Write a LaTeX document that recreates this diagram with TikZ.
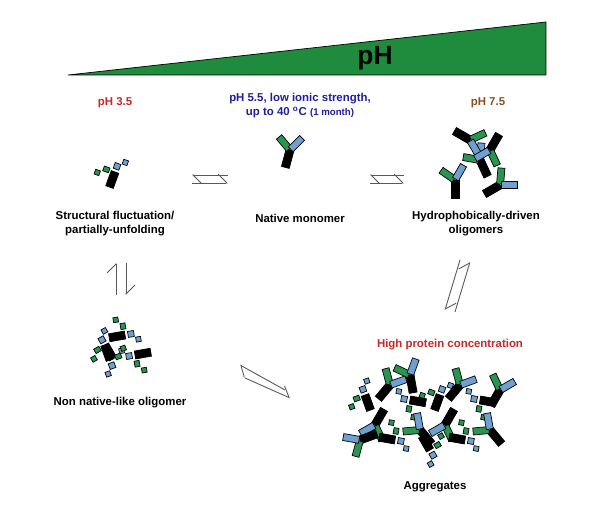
\documentclass[tikz,border=0pt]{standalone}
\usepackage{fontspec}
\setmainfont{Liberation Sans}
\usetikzlibrary{arrows.meta}
\definecolor{armG}{RGB}{40,150,80}
\definecolor{armB}{RGB}{110,160,210}
\definecolor{triG}{RGB}{30,140,60}
\definecolor{phRed}{RGB}{200,40,40}
\definecolor{phBlue}{RGB}{30,30,160}
\definecolor{phBrown}{RGB}{140,80,30}
\tikzset{
  lbl/.style={font=\fontsize{6.5}{8}\selectfont\bfseries, align=center},
  eqarrow/.style={gray!70!black, line width=.5pt, -{Straight Barb[left,length=5pt]}},
  ab/.pic={
    \draw[fill=black] (-4,0) rectangle (4,18);
    \draw[fill=armG,rotate=55] (-3.5,-1) rectangle (3.5,-17);
    \draw[fill=armB,rotate=-30] (-3.5,-1) rectangle (3.5,-17);
  },
  abu/.pic={
    \draw[fill=black] (-4,0) rectangle (4,16);
    \draw[fill=armB] (-3,-3) rectangle (3,-9);
    \draw[fill=armB] (4,-10) rectangle (9,-15);
    \draw[fill=armG] (-6,-2) rectangle (-12,3);
    \draw[fill=armG] (-14,4) rectangle (-19,9);
  }
}
\begin{document}
\begin{tikzpicture}[x={(0.02cm,0)}, y={(0,-0.02cm)}]
    \useasboundingbox (0,0) rectangle (600,510);
    \fill[white] (0,0) rectangle (600,510);
    % pH gradient wedge
    \draw[fill=triG] (68,75) -- (546,22) -- (546,75) -- cycle;
    \node[font=\fontsize{15}{18}\selectfont\bfseries] (ph) at (375,58) {pH};
    % conditions
    \node[lbl, text=phRed] (ph35) at (115,103) {pH 3.5};
    \node[lbl, text=phBlue] (ph55) at (300,106) {pH 5.5, low ionic strength,\\up to 40 \textsuperscript{o}C {\fontsize{5.5}{7}\selectfont(1 month)}};
    \node[lbl, text=phBrown] (ph75) at (488,103) {pH 7.5};
    % species
    \pic[rotate=-20] at (115,172) {abu};
    \pic[rotate=-15] at (290,150) {ab};
    \foreach \x/\y/\r in {455/180/0, 480/160/25, 500/185/-60, 470/140/-120, 490/150/150}
        \pic[rotate=\r] at (\x,\y) {ab};
    \node[lbl] (part) at (115,224) {Structural fluctuation/\\partially-unfolding};
    \node[lbl] (mono) at (300,218) {Native monomer};
    \node[lbl] (olig) at (476,224) {Hydrophobically-driven\\oligomers};
    % equilibria
    \draw[eqarrow] (228,175) -- (192,175);
    \draw[eqarrow] (192,183) -- (228,183);
    \draw[eqarrow] (404,175) -- (370,175);
    \draw[eqarrow] (370,183) -- (404,183);
    \draw[eqarrow] (116,295) -- (116,263);
    \draw[eqarrow] (126,263) -- (126,295);
    \draw[eqarrow] (460,260) -- (445,310);
    \draw[eqarrow] (455,312) -- (470,262);
    \draw[eqarrow] (285,390) -- (240,365);
    \draw[eqarrow] (245,378) -- (290,398);
    % non native-like oligomer
    \foreach \x/\y/\r in {105/345/30, 125/335/-80, 135/355/100, 110/360/200}
        \pic[rotate=\r] at (\x,\y) {abu};
    \node[lbl] (nonnat) at (120,403) {Non native-like oligomer};
    % aggregates
    \node[lbl, text=phRed] (conc) at (450,345) {High protein concentration};
    \foreach \x/\y/\r/\t in {365/395/20/abu, 390/385/-40/ab, 410/400/80/abu, 375/425/150/ab,
        395/440/-100/abu, 420/430/40/ab, 440/395/-20/abu, 460/385/-40/ab,
        480/400/80/abu, 445/425/150/ab, 465/440/-100/abu, 490/430/40/ab,
        500/390/-30/ab, 360/440/110/ab, 430/450/-150/abu, 410/375/10/ab}
        \pic[rotate=\r] at (\x,\y) {\t};
    \node[lbl] (agg) at (435,487) {Aggregates};
\end{tikzpicture}
\end{document}
